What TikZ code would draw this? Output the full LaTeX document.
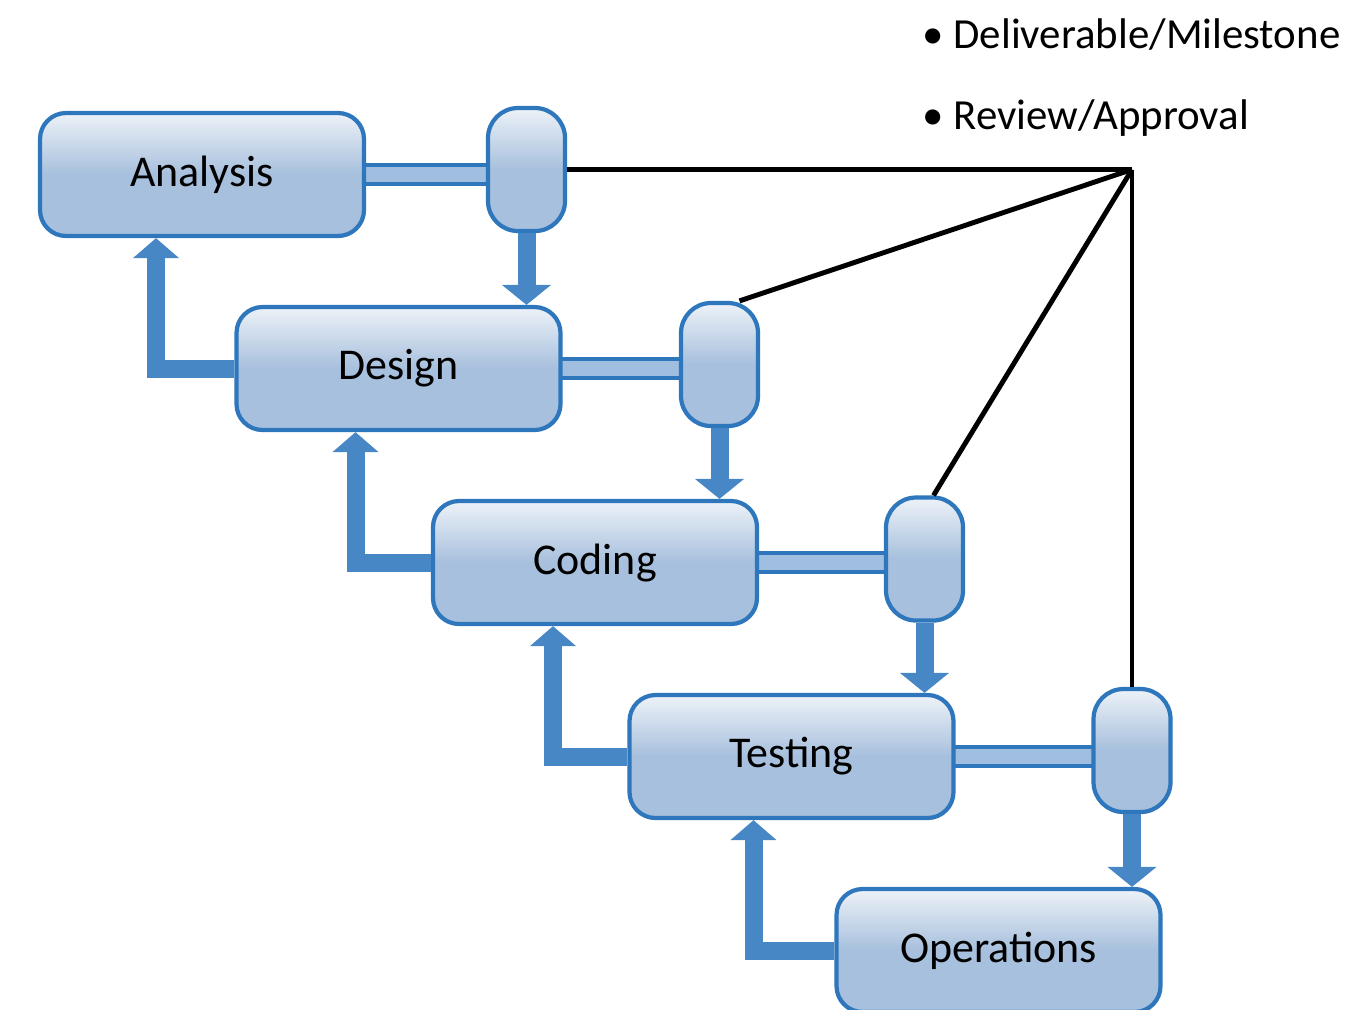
\documentclass[tikz,border=0pt]{standalone}
\usepackage{fontspec}
\setmainfont{Carlito}
\usepackage{tikz}
\usepackage{xcolor}
\usetikzlibrary{arrows.meta}

\definecolor{boxedge}{RGB}{47,119,188}
\definecolor{boxfill}{RGB}{167,192,221}
\definecolor{boxtop}{RGB}{237,242,248}
\definecolor{arrowblue}{RGB}{72,135,197}
\definecolor{barfill}{RGB}{160,190,224}

\pgfdeclarelayer{background}
\pgfsetlayers{background,main}

\begin{document}
\begin{tikzpicture}[
    phase/.style={rectangle, rounded corners=0.26cm, draw=boxedge, line width=1.2pt,
        top color=boxtop, bottom color=boxfill, middle color=boxfill,
        minimum width=3.24cm, minimum height=1.23cm, font=\fontsize{12.5}{14}\selectfont},
    milestone/.style={rectangle, rounded corners=0.3cm, draw=boxedge, line width=1.2pt,
        top color=boxtop, bottom color=boxfill, middle color=boxfill,
        minimum width=0.77cm, minimum height=1.23cm},
    bar/.style={draw=boxedge, line width=1.1pt, double=barfill, double distance=0.15cm},
    down/.style={arrowblue, line width=0.18cm, -{Triangle[width=0.48cm,length=0.2cm]}},
    up/.style={arrowblue, line width=0.18cm, -{Triangle[width=0.45cm,length=0.2cm]}},
    review/.style={black, line width=1.4pt},
    legend/.style={anchor=west, font=\fontsize{12.2}{14}\selectfont}]
            \useasboundingbox (0,0) rectangle (13.72,-10.09);

            % Phases
            \node[phase] (ana) at (2.02, -1.745) {Analysis};
            \node[phase] (des) at (3.985, -3.685) {Design};
            \node[phase] (cod) at (5.95, -5.625) {Coding};
            \node[phase] (tes) at (7.915, -7.565) {Testing};
            \node[phase] (ops) at (9.985, -9.505) {Operations};

            % Milestones
            \node[milestone] (m1) at (5.265, -1.695) {};
            \node[milestone] (m2) at (7.195, -3.645) {};
            \node[milestone] (m3) at (9.245, -5.59) {};
            \node[milestone] (m4) at (11.32, -7.505) {};

            % Legend
            \node[legend] (del) at (9.1, -0.35) {\textbullet\ Deliverable/Milestone};
            \node[legend] (rev) at (9.1, -1.18) {\textbullet\ Review/Approval};

            \coordinate (hub) at (m4.north |- m1.east);

            \begin{pgfonlayer}{background}
            \draw[bar] (ana.center) -- (ana.center -| m1.center);
            \draw[bar] (des.center) -- (des.center -| m2.center);
            \draw[bar] (cod.center) -- (cod.center -| m3.center);
            \draw[bar] (tes.center) -- (tes.center -| m4.center);
            \end{pgfonlayer}

            \draw[down] (m1.south) -- (m1.south |- des.north);
            \draw[down] (m2.south) -- (m2.south |- cod.north);
            \draw[down] (m3.south) -- (m3.south |- tes.north);
            \draw[down] (m4.south) -- (m4.south |- ops.north);

            \draw[up] (des.west) -| ([xshift=-0.46cm]ana.south);
            \draw[up] (cod.west) -| ([xshift=-0.43cm]des.south);
            \draw[up] (tes.west) -| ([xshift=-0.42cm]cod.south);
            \draw[up] (ops.west) -| ([xshift=-0.38cm]tes.south);

            \draw[review] (m1.east) -- (hub);
            \draw[review] ([xshift=0.2cm]m2.north) -- (hub);
            \draw[review] ([xshift=0.09cm]m3.north) -- (hub);
            \draw[review] (m4.north) -- (hub);
        \end{tikzpicture}
\end{document}
